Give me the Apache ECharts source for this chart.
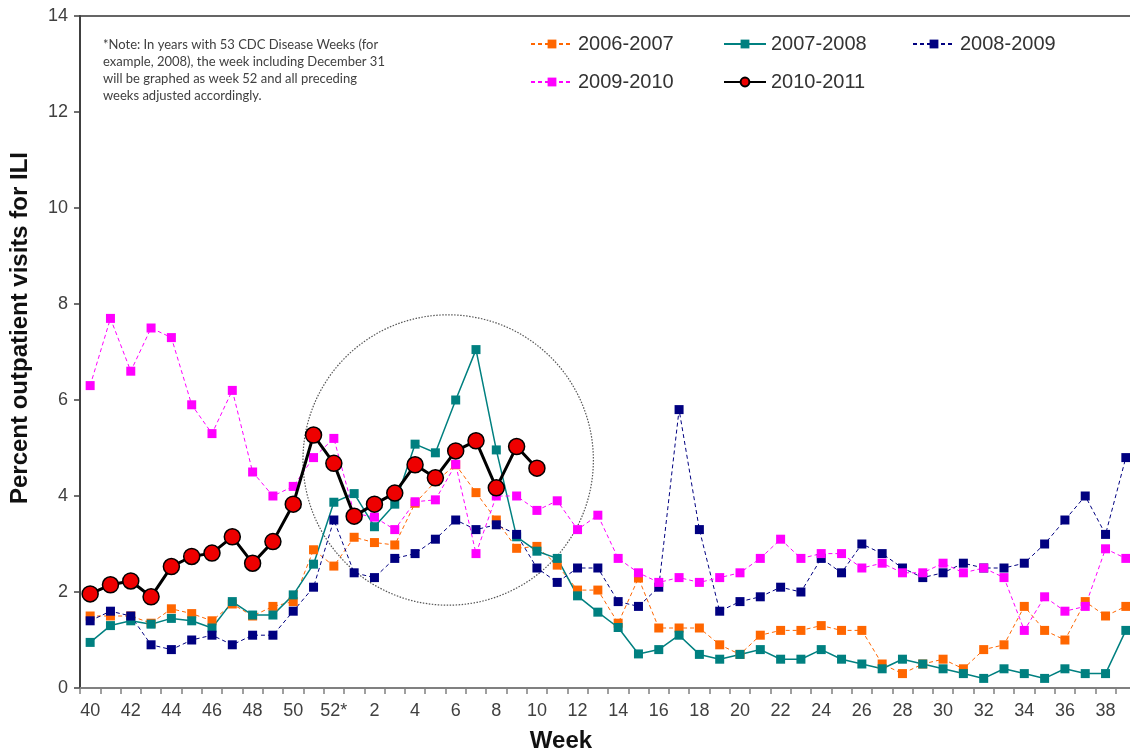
<!DOCTYPE html>
<html>
<head>
<meta charset="utf-8">
<script src="https://cdn.jsdelivr.net/npm/echarts@6/dist/echarts.min.js"></script>
<style>
html,body{margin:0;padding:0;background:#fff;overflow:hidden;width:1130px;height:754px;}
#chart{width:1136px;height:754px;}
</style>
</head>
<body>
<div id="chart"></div>
<script>
// Week categories (CDC weeks 40..52, then 1..39)
var weeks = ['40','41','42','43','44','45','46','47','48','49','50','51','52*',
  '1','2','3','4','5','6','7','8','9','10','11','12','13','14','15','16','17','18','19','20',
  '21','22','23','24','25','26','27','28','29','30','31','32','33','34','35','36','37','38','39'];

var s2006 = [1.5,1.5,1.5,1.35,1.65,1.55,1.4,1.75,1.5,1.7,1.8,2.88,2.54,
  3.14,3.03,2.98,3.85,4.3,4.65,4.07,3.5,2.91,2.95,2.56,2.04,2.04,1.35,2.29,1.25,1.25,1.25,0.9,0.7,
  1.1,1.2,1.2,1.3,1.2,1.2,0.5,0.3,0.5,0.6,0.4,0.8,0.9,1.7,1.2,1.0,1.8,1.5,1.7];

var s2007 = [0.95,1.3,1.4,1.33,1.45,1.4,1.25,1.8,1.52,1.52,1.94,2.58,3.87,
  4.05,3.36,3.83,5.08,4.9,6.0,7.05,4.96,3.15,2.85,2.7,1.92,1.58,1.26,0.71,0.8,1.1,0.7,0.6,0.7,
  0.8,0.6,0.6,0.8,0.6,0.5,0.4,0.6,0.5,0.4,0.3,0.2,0.4,0.3,0.2,0.4,0.3,0.3,1.2];

var s2008 = [1.4,1.6,1.5,0.9,0.8,1.0,1.1,0.9,1.1,1.1,1.6,2.1,3.5,
  2.4,2.3,2.7,2.8,3.1,3.5,3.3,3.4,3.2,2.5,2.2,2.5,2.5,1.8,1.7,2.1,5.8,3.3,1.6,1.8,
  1.9,2.1,2.0,2.7,2.4,3.0,2.8,2.5,2.3,2.4,2.6,2.5,2.5,2.6,3.0,3.5,4.0,3.2,4.8];

var s2009 = [6.3,7.7,6.6,7.5,7.3,5.9,5.3,6.2,4.5,4.0,4.2,4.8,5.2,
  3.64,3.56,3.3,3.88,3.92,4.66,2.8,4.0,4.0,3.7,3.9,3.3,3.6,2.7,2.4,2.2,2.3,2.2,2.3,2.4,
  2.7,3.1,2.7,2.8,2.8,2.5,2.6,2.4,2.4,2.6,2.4,2.5,2.3,1.2,1.9,1.6,1.7,2.9,2.7];

var s2010 = [1.96,2.15,2.23,1.9,2.53,2.74,2.81,3.15,2.6,3.05,3.83,5.27,4.68,
  3.58,3.83,4.06,4.65,4.38,4.94,5.15,4.17,5.03,4.58];

var yTicks = [0,2,4,6,8,10,12,14];

var noteLines = [
  '*Note: In years with 53 CDC Disease Weeks (for',
  'example, 2008), the week including December 31',
  'will be graphed as week 52 and all preceding',
  'weeks adjusted accordingly.'
];

var chart = echarts.init(document.getElementById('chart'), null, {renderer:'canvas'});
var font = 'Arial, "Liberation Sans", sans-serif';

function sq(name, data, color, dashed, width){
  return {
    name:name, type:'line', data:data, symbol:'rect', symbolSize:9, showAllSymbol:true,
    itemStyle:{color:color},
    lineStyle:{color:color, width:width, type: dashed ? [4,3] : 'solid'},
    emphasis:{disabled:true}, animation:false
  };
}

function legendCol(left, names){
  return {
    orient:'vertical', left:left, top:29, itemWidth:42, itemHeight:11, itemGap:18,
    textStyle:{fontFamily:font, fontSize:20, color:'#333', lineHeight:20},
    selectedMode:false, data:names
  };
}

var option = {
  animation:false,
  grid:{left:80, right:0, top:16, bottom:66, show:true, borderColor:'#333', borderWidth:1.5},
  legend:[
    legendCol(525, ['2006-2007','2009-2010']),
    legendCol(718, ['2007-2008','2010-2011']),
    legendCol(907, ['2008-2009'])
  ],
  xAxis:{
    type:'category', data:weeks, boundaryGap:true,
    axisLine:{lineStyle:{color:'#808080', width:2}},
    axisTick:{show:true, interval:0, length:6, lineStyle:{color:'#808080', width:1.5}},
    axisLabel:{interval:1, fontFamily:font, fontSize:18, color:'#404040', margin:14},
    splitLine:{show:false}
  },
  yAxis:{
    type:'value', min:yTicks[0], max:yTicks[yTicks.length-1], interval:2,
    axisLine:{show:true, lineStyle:{color:'#404040', width:2}},
    axisTick:{show:true, length:6, lineStyle:{color:'#404040', width:1.5}},
    axisLabel:{fontFamily:font, fontSize:18, color:'#404040', margin:12},
    splitLine:{show:false}
  },
  series:[
    sq('2006-2007', s2006, '#FF6600', true, 1),
    sq('2007-2008', s2007, '#008080', false, 1.5),
    sq('2008-2009', s2008, '#000080', true, 1),
    sq('2009-2010', s2009, '#FF00FF', true, 1),
    {
      name:'2010-2011', type:'line', data:s2010, symbol:'circle', symbolSize:16, z:5, showAllSymbol:true,
      itemStyle:{color:'#EE0000', borderColor:'#000', borderWidth:1.5},
      lineStyle:{color:'#000', width:3},
      emphasis:{disabled:true}, animation:false
    }
  ],
  graphic:[]
};
chart.setOption(option);

// annotation circle, positioned via axis scales
var p17 = chart.convertToPixel({xAxisIndex:0, yAxisIndex:0}, [17, 4.75]);
var p18 = chart.convertToPixel({xAxisIndex:0, yAxisIndex:0}, [18, 4.75]);
var band = p18[0] - p17[0];
var cx = p17[0] + 0.63 * band;
var cy = p17[1];
var r = 7.15 * band;

var graphics = [
  {type:'circle', shape:{cx:cx, cy:cy, r:r}, silent:true, z:1,
   style:{fill:'none', stroke:'#555', lineWidth:1.2, lineDash:[1.5,1.5]}},
  {type:'text', x:20, y:328, rotation:Math.PI/2, silent:true,
   style:{text:'Percent outpatient visits for ILI', fontFamily:font, fontSize:24, fontWeight:'bold',
          fill:'#111', align:'center', verticalAlign:'middle'}},
  {type:'text', x:561, y:741, silent:true,
   style:{text:'Week', fontFamily:font, fontSize:24, fontWeight:'bold', fill:'#111',
          align:'center', verticalAlign:'middle'}}
];
noteLines.forEach(function(t, i){
  graphics.push({type:'text', x:103, y:45 + i*17, silent:true,
    style:{text:t, fontFamily:'Lato, "Open Sans", sans-serif', fontSize:13, fill:'#404040',
           align:'left', verticalAlign:'middle'}});
});
chart.setOption({graphic:graphics});
</script>
</body>
</html>
